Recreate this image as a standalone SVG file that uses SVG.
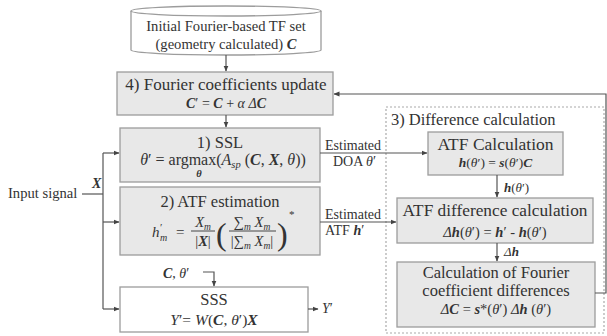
<svg xmlns="http://www.w3.org/2000/svg" width="607" height="336" viewBox="0 0 607 336" font-family="'Liberation Serif', 'DejaVu Serif', serif">
<style>
.t{font-family:'Liberation Serif','DejaVu Serif',serif;fill:#333}
.box{fill:#e8e8e8;stroke:#9c9c9c;stroke-width:1.3}
.wbox{fill:#fff;stroke:#9c9c9c;stroke-width:1.3}
.ln{stroke:#555;stroke-width:1.2;fill:none}
.dash{fill:none;stroke:#aaa;stroke-width:1.2;stroke-dasharray:2,2}
.i{font-style:italic}
.b{font-weight:bold;font-style:italic}
</style>
<defs>
<marker id="ah" markerWidth="6" markerHeight="6" refX="5.5" refY="3" orient="auto" markerUnits="userSpaceOnUse">
<path d="M0,0.5 L6,3 L0,5.5 Z" fill="#444"/>
</marker>
</defs>
<rect width="607" height="336" fill="#fff"/>

<g id="cylinder">
<path class="wbox" d="M131,11 V50 A95,5 0 0 0 321,50 V11"/>
<ellipse class="wbox" cx="226" cy="11" rx="95" ry="5"/>
<text class="t" x="226" y="31" font-size="14.6" text-anchor="middle">Initial Fourier-based TF set</text>
<text class="t" x="226" y="49" font-size="14.6" text-anchor="middle">(geometry calculated) <tspan class="b">C</tspan></text>
</g>

<g id="update">
<rect class="box" x="117" y="72" width="216" height="43"/>
<text class="t" x="226" y="90" font-size="17" text-anchor="middle">4) Fourier coefficients update</text>
<text class="t" x="226" y="108" font-size="14" text-anchor="middle"><tspan class="b">C</tspan>′ = <tspan class="b">C</tspan> + <tspan class="i">α</tspan> <tspan class="i">Δ</tspan><tspan class="b">C</tspan></text>
</g>

<g id="ssl">
<rect class="box" x="120" y="128" width="200" height="54"/>
<text class="t" x="220" y="148" font-size="16.5" text-anchor="middle">1) SSL</text>
<text class="t" x="223" y="165" font-size="16" text-anchor="middle"><tspan class="i">θ</tspan>′ = argmax(<tspan class="i">A</tspan><tspan class="i" font-size="10.5" dy="3">sp</tspan><tspan dy="-3"> (</tspan><tspan class="b">C</tspan>, <tspan class="b">X</tspan>, <tspan class="i">θ</tspan>))</text>
<text class="t b" x="199" y="177" font-size="10.5" text-anchor="middle">θ</text>
</g>

<g id="atfest">
<rect class="box" x="120" y="187" width="200" height="68"/>
<text class="t" x="220" y="207" font-size="16.5" text-anchor="middle">2) ATF estimation</text>
<text class="t" font-size="15"><tspan class="i" x="152" y="237">h</tspan><tspan x="160" y="231" font-size="11">′</tspan><tspan class="i" x="160" y="241" font-size="10">m</tspan></text>
<text class="t" x="176" y="237" font-size="15">=</text>
<text class="t" x="203" y="227" font-size="14.5" text-anchor="middle"><tspan class="i">X</tspan><tspan class="i" font-size="9.5" dy="3">m</tspan></text>
<line x1="191" y1="231" x2="215" y2="231" stroke="#333" stroke-width="0.9"/>
<text class="t" x="203" y="246" font-size="14.5" text-anchor="middle">|<tspan class="b">X</tspan>|</text>
<text class="t" x="216" y="245" font-size="32">(</text>
<text class="t" x="252" y="227" font-size="14.5" text-anchor="middle">∑<tspan class="i" font-size="9.5" dy="3">m</tspan><tspan dy="-3"> </tspan><tspan class="i">X</tspan><tspan class="i" font-size="9.5" dy="3">m</tspan></text>
<line x1="229" y1="231" x2="276" y2="231" stroke="#333" stroke-width="0.9"/>
<text class="t" x="252" y="246" font-size="14.5" text-anchor="middle">|∑<tspan class="i" font-size="9.5" dy="3">m</tspan><tspan dy="-3"> </tspan><tspan class="i">X</tspan><tspan class="i" font-size="9.5" dy="3">m</tspan><tspan dy="-3">|</tspan></text>
<text class="t" x="277" y="245" font-size="32">)</text>
<text class="t" x="289" y="218" font-size="11">*</text>
</g>

<g id="sss">
<rect class="wbox" x="120" y="287" width="188" height="45"/>
<text class="t" x="214" y="305" font-size="16.5" text-anchor="middle">SSS</text>
<text class="t" x="214" y="325" font-size="15.5" text-anchor="middle"><tspan class="i">Y</tspan>′= <tspan class="i">W</tspan>(<tspan class="b">C</tspan>, <tspan class="i">θ</tspan>′)<tspan class="b">X</tspan></text>
</g>

<g id="diffgroup">
<rect class="dash" x="386" y="107" width="218" height="226"/>
<text class="t" x="391" y="125" font-size="16.5">3) Difference calculation</text>
</g>

<g id="atfcalc">
<rect class="box" x="428" y="132" width="135" height="43"/>
<text class="t" x="495.5" y="150" font-size="17.5" text-anchor="middle">ATF Calculation</text>
<text class="t" x="495.5" y="167" font-size="13.5" text-anchor="middle"><tspan class="b">h</tspan>(<tspan class="i">θ</tspan>′) = <tspan class="b">s</tspan>(<tspan class="i">θ</tspan>′)<tspan class="b">C</tspan></text>
</g>

<g id="atfdiff">
<rect class="box" x="397" y="198" width="196" height="45"/>
<text class="t" x="495" y="216" font-size="17.3" text-anchor="middle">ATF difference calculation</text>
<text class="t" x="495" y="237" font-size="14.5" text-anchor="middle"><tspan class="i">Δ</tspan><tspan class="b">h</tspan>(<tspan class="i">θ</tspan>′)  =  <tspan class="b">h</tspan>′ - <tspan class="b">h</tspan>(<tspan class="i">θ</tspan>′)</text>
</g>

<g id="coefdiff">
<rect class="box" x="397" y="262" width="198" height="65"/>
<text class="t" x="496" y="278" font-size="16.5" text-anchor="middle">Calculation of Fourier</text>
<text class="t" x="496" y="296" font-size="16.5" text-anchor="middle">coefficient differences</text>
<text class="t" x="496" y="314" font-size="14.5" text-anchor="middle"><tspan class="i">Δ</tspan><tspan class="b">C</tspan> = <tspan class="b">s</tspan>*(<tspan class="i">θ</tspan>′) <tspan class="i">Δ</tspan><tspan class="b">h</tspan> (<tspan class="i">θ</tspan>′)</text>
</g>

<g id="input">
<text class="t" x="8" y="198" font-size="14.6">Input signal</text>
<text class="t b" x="92" y="188" font-size="14">X</text>
</g>

<g id="connectors">
<path class="ln" d="M226,55 V71" marker-end="url(#ah)"/>
<path class="ln" d="M226,115 V127" marker-end="url(#ah)"/>
<path class="ln" d="M82,194 H103"/>
<path class="ln" d="M103,153 V309"/>
<path class="ln" d="M103,153 H119" marker-end="url(#ah)"/>
<path class="ln" d="M103,222 H119" marker-end="url(#ah)"/>
<path class="ln" d="M103,309 H119" marker-end="url(#ah)"/>
<path class="ln" d="M203,272 H214 V286" marker-end="url(#ah)"/>
<path class="ln" d="M308,309 H318" marker-end="url(#ah)"/>
<path class="ln" d="M320,153 H427" marker-end="url(#ah)"/>
<path class="ln" d="M320,222 H396" marker-end="url(#ah)"/>
<path class="ln" d="M497,175 V197" marker-end="url(#ah)"/>
<path class="ln" d="M497,243 V261" marker-end="url(#ah)"/>
<path class="ln" d="M595,293 H606 V94 H334" marker-end="url(#ah)"/>
<text class="t" x="163" y="278" font-size="14"><tspan class="b">C</tspan>, <tspan class="i">θ</tspan>′</text>
<text class="t" x="322" y="313" font-size="14"><tspan class="i">Y</tspan>′</text>
<text class="t" x="325" y="150" font-size="14">Estimated</text>
<text class="t" x="333" y="166" font-size="14">DOA <tspan class="i">θ</tspan>′</text>
<text class="t" x="325" y="219" font-size="14">Estimated</text>
<text class="t" x="325" y="235" font-size="14">ATF <tspan class="b">h</tspan>′</text>
<text class="t" x="504" y="192" font-size="13"><tspan class="b">h</tspan>(<tspan class="i">θ</tspan>′)</text>
<text class="t" x="504" y="256" font-size="13"><tspan class="i">Δ</tspan><tspan class="b">h</tspan></text>
</g>
</svg>
